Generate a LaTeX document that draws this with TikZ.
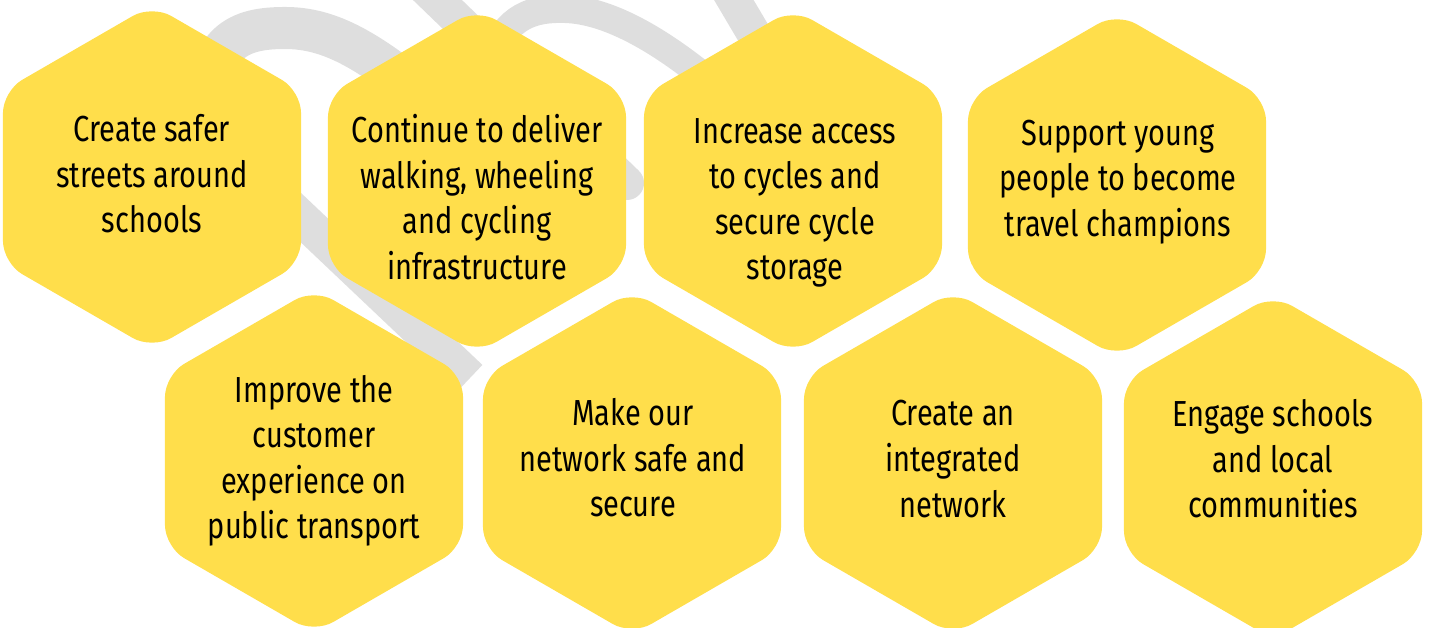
\documentclass[tikz,border=0pt]{standalone}
\usepackage{fontspec}
\setmainfont{Fira Sans}[FakeStretch=0.8]
\usepackage{tikz}
\usetikzlibrary{shapes.geometric}

\definecolor{hexyellow}{HTML}{FFDE4B}
\definecolor{bandgrey}{HTML}{DEDEDE}

\begin{document}
\begin{tikzpicture}[x=0.01cm, y=-0.01cm,
    hex/.style={regular polygon, regular polygon sides=6, shape border rotate=30,
        minimum size=3.44cm, inner sep=0pt, outer sep=0pt, fill=hexyellow, rounded corners=0.22cm},
    txt/.style={align=center, inner sep=0pt, font=\fontsize{10.3}{12.95}\selectfont},
    band/.style={draw=bandgrey, line width=#1}]
    \useasboundingbox (0,0) rectangle (1430,628);
    \clip (0,0) rectangle (1430,628);

    % grey bands behind the hexagons
    \draw[band=0.42cm] (206,120) .. controls (206,40) and (240,28) .. (285,28)
        .. controls (330,28) and (370,50) .. (440,110);
    \draw[band=0.28cm] (492,60) .. controls (505,15) and (535,8) .. (565,9)
        .. controls (600,10) and (650,30) .. (720,90);
    \draw[band=0.34cm, line cap=round] (425,-12) -- (627,183);
    \draw[band=0.34cm] (722,-20) -- (790,95);
    \draw[band=0.36cm] (200,122) -- (470,378);

    % top row
    \node[hex] (safer) at (152,177) {};
    \node[hex] (infra) at (477,181) {};
    \node[hex] (access) at (793,181) {};
    \node[hex] (young) at (1117,185) {};
    % bottom row
    \node[hex] (customer) at (314,461) {};
    \node[hex] (secure) at (632,463) {};
    \node[hex] (integrated) at (953,463) {};
    \node[hex] (engage) at (1273,467) {};

    \node[txt] (safer-txt) at (152,174) {Create safer\\streets around\\schools};
    \node[txt] (infra-txt) at (477,197) {Continue to deliver\\walking, wheeling\\and cycling\\infrastructure};
    \node[txt] (access-txt) at (795,203) {Increase access\\to cycles and\\secure cycle\\storage};
    \node[txt] (young-txt) at (1118,182) {Support young\\people to become\\travel champions};
    \node[txt] (customer-txt) at (314,461) {Improve the\\customer\\experience on\\public transport};
    \node[txt] (secure-txt) at (633,458) {Make our\\network safe and\\secure};
    \node[txt] (integrated-txt) at (953,459) {Create an\\integrated\\network};
    \node[txt] (engage-txt) at (1273,459) {Engage schools\\and local\\communities};
\end{tikzpicture}
\end{document}
